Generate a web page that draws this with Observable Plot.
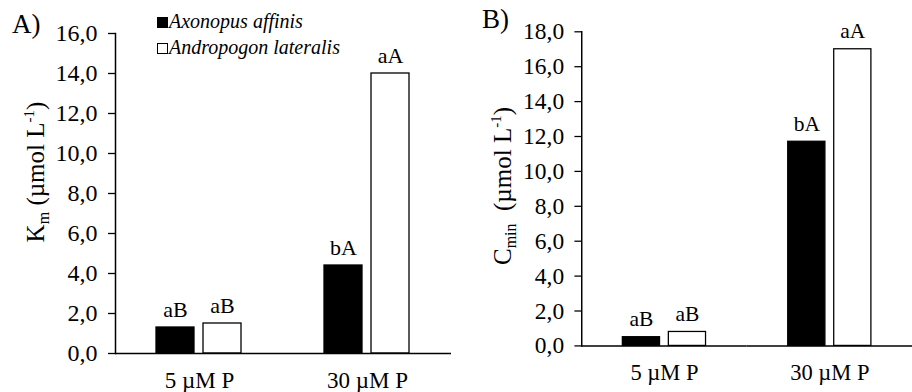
<!DOCTYPE html>
<html>
<head>
<meta charset="utf-8">
<script src="https://cdn.jsdelivr.net/npm/d3@7"></script>
<script src="https://cdn.jsdelivr.net/npm/@observablehq/plot@0.6"></script>
<style>
  html, body { margin: 0; padding: 0; background: #fff; }
  #wrap { position: relative; width: 912px; height: 392px; overflow: hidden; font-family: "Liberation Serif", "Times New Roman", serif; color: #000; }
  .panel { position: absolute; top: 0; }
  .plabel { position: absolute; font-size: 27px; line-height: 1; }
  .ytitle { position: absolute; font-size: 25px; white-space: nowrap; transform: translate(-50%, -50%) rotate(-90deg); line-height: 1; }
  .ytitle sub { font-size: 16px; vertical-align: -5px; }
  .ytitle sup { font-size: 15px; vertical-align: 10px; }
  .legend { position: absolute; left: 157px; top: 8px; font-size: 20px; font-style: italic; line-height: 26px; }
  .legend .sw { display: inline-block; width: 11px; height: 11px; border: 1.3px solid #000; margin-right: 1px; vertical-align: 0px; box-sizing: border-box; }
</style>
</head>
<body>
<div id="wrap">
  <div class="plabel" style="left:12px; top:11px;">A)</div>
  <div class="plabel" style="left:482px; top:6px;">B)</div>
  <div class="ytitle" style="left:37px; top:172px;">K<sub>m</sub> (µmol L<sup>-1</sup>)</div>
  <div class="ytitle" style="left:504px; top:186px;">C<sub>min</sub>&nbsp; (µmol L<sup>-1</sup>)</div>
  <div class="legend">
    <div><span class="sw" style="background:#000"></span>Axonopus affinis</div>
    <div><span class="sw" style="background:#fff"></span>Andropogon lateralis</div>
  </div>
  <div id="pa" class="panel" style="left:0px"></div>
  <div id="pb" class="panel" style="left:456px"></div>
</div>
<script>
// ---- data ----
const concentrations = ["5 µM P", "30 µM P"];
const species = ["Axonopus affinis", "Andropogon lateralis"];
// Panel A: Km (µmol L-1)
const kmAxonopus = [1.3, 4.4];
const kmAndropogon = [1.5, 14.0];
const kmLetterAxonopus = ["aB", "bA"];
const kmLetterAndropogon = ["aB", "aA"];
// Panel B: Cmin (µmol L-1)
const cminAxonopus = [0.5, 11.7];
const cminAndropogon = [0.8, 17.0];
const cminLetterAxonopus = ["aB", "bA"];
const cminLetterAndropogon = ["aB", "aA"];
// tick labels
const yTicksA = [0, 2, 4, 6, 8, 10, 12, 14, 16];
const yTicksB = [0, 2, 4, 6, 8, 10, 12, 14, 16, 18];

function rows(valsA, valsB, letA, letB) {
  const out = [];
  concentrations.forEach((c, i) => {
    out.push({conc: c, sp: species[0], v: valsA[i], lab: letA[i]});
    out.push({conc: c, sp: species[1], v: valsB[i], lab: letB[i]});
  });
  return out;
}

const fmt = d => d.toFixed(1).replace(".", ",");

function makePlot({data, ticks, domainMax, width, marginLeft, marginRight, marginTop, marginBottom}) {
  return Plot.plot({
    width, height: 392,
    marginLeft, marginRight, marginTop, marginBottom,
    style: {fontFamily: "'Liberation Serif', 'Times New Roman', serif", fontSize: "23px", color: "#000", background: "transparent", overflow: "visible"},
    fx: {domain: concentrations, padding: 0, label: null},
    x: {domain: species, paddingInner: 0.19, paddingOuter: 0.865, axis: null},
    y: {domain: [0, domainMax], label: null},
    color: {domain: species, range: ["#000", "#fff"]},
    marks: [
      Plot.axisFx({anchor: "bottom", tickSize: 0, tickPadding: 18, label: null, fontSize: 23}),
      Plot.axisY({ticks, tickFormat: fmt, tickSize: 7, tickPadding: 11, label: null, fontSize: 24, strokeWidth: 1.3}),
      Plot.barY(data, {fx: "conc", x: "sp", y: "v", fill: "sp", stroke: "#000", strokeWidth: 1.3}),
      Plot.text(data, {fx: "conc", x: "sp", y: "v", text: "lab", lineAnchor: "bottom", dy: -11, fontSize: 22}),
      Plot.ruleY([0], {stroke: "#000", strokeWidth: 1.5}),
      Plot.frame({anchor: "left", facetAnchor: "left", stroke: "#000", strokeWidth: 1.5})
    ]
  });
}

document.getElementById("pa").append(makePlot({
  data: rows(kmAxonopus, kmAndropogon, kmLetterAxonopus, kmLetterAndropogon),
  ticks: yTicksA, domainMax: 16, width: 456,
  marginLeft: 115, marginRight: 5, marginTop: 33, marginBottom: 39
}));
document.getElementById("pb").append(makePlot({
  data: rows(cminAxonopus, cminAndropogon, cminLetterAxonopus, cminLetterAndropogon),
  ticks: yTicksB, domainMax: 18, width: 466,
  marginLeft: 127, marginRight: 0, marginTop: 32, marginBottom: 39
}));
</script>
</body>
</html>
